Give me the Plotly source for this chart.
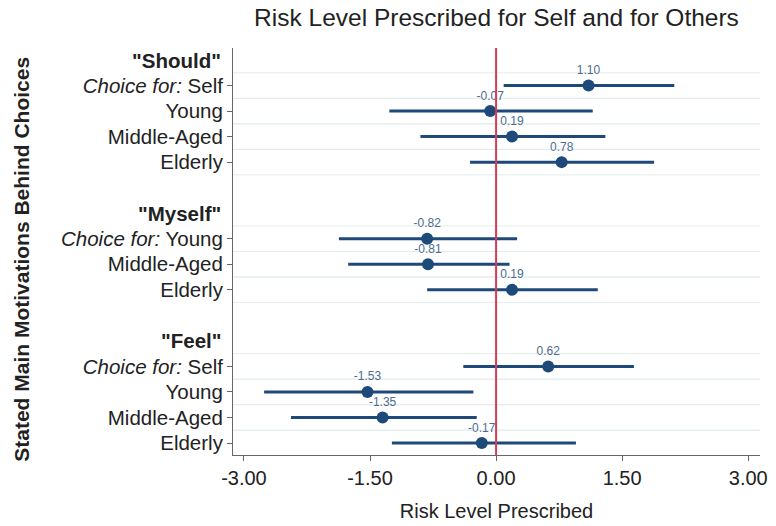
import plotly.graph_objects as go

# ---- data ----
group_labels = ['"Should"', '"Myself"', '"Feel"']
group_items = [
    ["Self", "Young", "Middle-Aged", "Elderly"],
    ["Young", "Middle-Aged", "Elderly"],
    ["Self", "Young", "Middle-Aged", "Elderly"],
]
estimates = [1.10, -0.07, 0.19, 0.78, -0.82, -0.81, 0.19, 0.62, -1.53, -1.35, -0.17]
ci_lower = [0.09, -1.27, -0.90, -0.31, -1.87, -1.76, -0.82, -0.39, -2.76, -2.44, -1.24]
ci_upper = [2.12, 1.15, 1.30, 1.88, 0.25, 0.16, 1.21, 1.64, -0.27, -0.23, 0.95]
x_ticks = [-3.0, -1.5, 0.0, 1.5, 3.0]
x_tick_labels = ["-3.00", "-1.50", "0.00", "1.50", "3.00"]

# ---- row layout ----
item_rows, item_text, header_rows = [], [], []
row = 0
for g, items in enumerate(group_items):
    header_rows.append(row)
    row += 1
    for i, it in enumerate(items):
        item_rows.append(row)
        item_text.append(("<i>Choice for:</i> " + it) if i == 0 else it)
        row += 1
    row += 1  # blank spacer
last_row = item_rows[-1]

NAVY = "#1d4a78"
LABEL = "#4d6d8e"
AXIS = "#666666"
GRID = "#e4eded"
TXT = "#222222"
FONT = "Liberation Sans, Arial, sans-serif"

fig = go.Figure()
fig.add_trace(go.Scatter(
    x=estimates, y=item_rows, mode="markers+text",
    marker=dict(size=12, color=NAVY),
    error_x=dict(type="data", symmetric=False,
                 array=[u - e for u, e in zip(ci_upper, estimates)],
                 arrayminus=[e - l for e, l in zip(estimates, ci_lower)],
                 color=NAVY, thickness=3, width=0),
    text=[f"{v:.2f}" for v in estimates], textposition="top center",
    textfont=dict(size=12, color=LABEL, family=FONT),
    hoverinfo="skip", showlegend=False,
))

shapes = []
for r in item_rows:
    for yy in (r - 0.5, r + 0.5):
        if yy <= last_row:
            shapes.append(dict(type="line", xref="paper", x0=0, x1=1, yref="y", y0=yy, y1=yy,
                               line=dict(color=GRID, width=1), layer="below"))
shapes.append(dict(type="line", xref="x", x0=0, x1=0, yref="paper", y0=0, y1=1,
                   line=dict(color="#d93a55", width=2)))

annotations = []
for r, lab in zip(header_rows, group_labels):
    annotations.append(dict(text=f"<b>{lab}</b>", xref="paper", x=0, xanchor="right", xshift=-10,
                            yref="y", y=r, yanchor="middle", showarrow=False,
                            font=dict(size=20.5, color=TXT, family=FONT)))
annotations.append(dict(text="<b>Stated Main Motivations Behind Choices</b>", textangle=-90,
                        xref="paper", x=-0.402, xanchor="center", yref="paper", y=0.48,
                        yanchor="middle", showarrow=False,
                        font=dict(size=21, color=TXT, family=FONT)))

fig.update_layout(
    width=776, height=526,
    margin=dict(l=233, r=8, t=48, b=68),
    paper_bgcolor="white", plot_bgcolor="white",
    font=dict(family=FONT, color=TXT),
    title=dict(text="Risk Level Prescribed for Self and for Others", x=0.5, xref="paper",
               xanchor="center", y=0.966, yanchor="middle",
               font=dict(size=24.5, color=TXT, family=FONT)),
    shapes=shapes, annotations=annotations,
)
fig.update_xaxes(range=[-3.13, 3.14], tickvals=x_ticks, ticktext=x_tick_labels,
                 showgrid=False, zeroline=False, showline=True, linecolor=AXIS, linewidth=1,
                 ticks="outside", ticklen=5, tickcolor=AXIS,
                 tickfont=dict(size=20, color=TXT, family=FONT),
                 title=dict(text="Risk Level Prescribed", standoff=15,
                            font=dict(size=20, color=TXT, family=FONT)))
fig.update_yaxes(range=[last_row + 0.47, -0.47], tickvals=item_rows, ticktext=item_text,
                 showgrid=False, zeroline=False, showline=True, linecolor=AXIS, linewidth=1,
                 ticks="outside", ticklen=5, tickcolor=AXIS,
                 tickfont=dict(size=20.5, color=TXT, family=FONT))

# remove the default 8px page margin so the figure sits at the window origin
fig.write_html("out.html", config={"displayModeBar": False},
               post_script="document.body.style.margin='0';document.body.style.overflow='hidden';")
